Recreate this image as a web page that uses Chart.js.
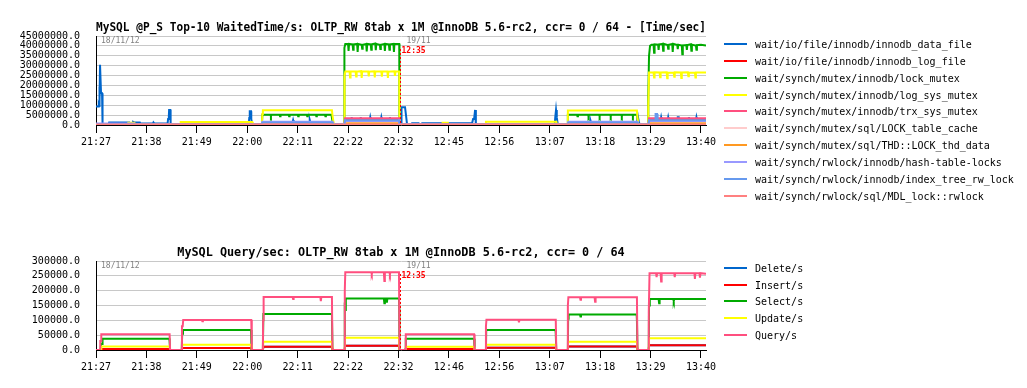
<!DOCTYPE html>
<html>
<head>
<meta charset="utf-8">
<script src="https://cdn.jsdelivr.net/npm/chart.js@4.4.0/dist/chart.umd.min.js"></script>
<style>
    body { margin: 0; background: #fff; width: 1027px; height: 388px; overflow: hidden; position: relative; font-family: "DejaVu Sans Mono", monospace; }
    canvas { position: absolute; left: 0; }
    .legend { position: absolute; left: 724px; top: 0; font-size: 10px; color: #000; }
    .legend-row { position: absolute; left: 0; height: 16px; white-space: nowrap; }
    .legend-row .swatch { position: absolute; left: 0; top: 7px; width: 23px; height: 2px; }
    .legend-row .label { position: absolute; left: 31px; top: 1px; line-height: 16px; }
</style>
</head>
<body>
<canvas id="waitChart" width="1027" height="160" style="top:0"></canvas>
<canvas id="queryChart" width="1027" height="160" style="top:225px"></canvas>
<div id="waitLegend" class="legend"></div>
<div id="queryLegend" class="legend"></div>
<script>
const MONO = '"DejaVu Sans Mono", monospace';

// x is sample position, one tick every 10 samples
const waitTimes = ['21:27', '21:38', '21:49', '22:00', '22:11', '22:22', '22:32', '12:45', '12:56', '13:07', '13:18', '13:29', '13:40'];
const queryTimes = ['21:27', '21:38', '21:49', '22:00', '22:11', '22:22', '22:32', '12:46', '12:56', '13:07', '13:18', '13:29', '13:40'];
const dayBreakAt = 60.3;

// ---- Top-10 waited time / sec ----
const innodbDataFile = [[0,9.3e6],[0.5,9.4e6],[0.55,10e6],[0.6,9.6e6],[0.65,19.4e6],[0.75,12e6],[0.8,30.4e6],[0.95,30.4e6],[1.0,16e6],[1.2,16e6],[1.3,0.3e6],
    [2.5,0.3e6],[2.6,1.3e6],[4.4,1.3e6],[4.5,0.6e6],[4.7,1.3e6],[6.6,1.3e6],[6.7,0.6e6],[7.3,0.6e6],[7.35,1.6e6],[7.6,1.3e6],[8.7,1.3e6],[8.8,0.7e6],
    [11.3,0.7e6],[11.4,1.3e6],[11.6,0.7e6],[14.2,0.7e6],[14.3,3e6],[14.45,4.6e6],[14.5,7.6e6],[14.75,7.6e6],[14.8,0.3e6],
    [30.3,0.3e6],[30.4,3.5e6],[30.5,6.9e6],[30.75,6.9e6],[30.8,3e6],[31.0,0.3e6],[32.9,0.3e6],[33.0,1.5e6],[39.0,1.5e6],[39.1,2.5e6],[39.2,1.5e6],
    [42.3,1.5e6],[42.4,2.5e6],[42.5,1.5e6],[46.9,1.5e6],[47.2,0.3e6],[49.3,0.3e6],[49.4,2.6e6],[50.6,2.6e6],[50.7,3.9e6],[50.8,2.6e6],
    [52.4,2.6e6],[52.5,3.9e6],[52.6,2.6e6],[54.3,2.6e6],[54.4,3.9e6],[54.5,2.6e6],[56.5,2.6e6],[56.6,3.9e6],[56.7,2.6e6],[58.2,2.6e6],[58.3,3.9e6],[58.4,2.6e6],
    [60.1,2.6e6],[60.3,0.3e6],[60.5,0.3e6],[60.6,9e6],[61.3,9e6],[61.5,4.7e6],[61.7,0.3e6],[62.6,0.3e6],[62.7,0.9e6],[64.0,0.9e6],[64.1,0.3e6],
    [64.6,0.3e6],[64.7,0.9e6],[68.5,0.9e6],[68.6,0.3e6],[69.8,0.3e6],[69.9,0.9e6],[74.6,0.9e6],[74.8,3e6],[75.0,3e6],[75.2,7.6e6],[75.35,0.3e6],
    [91.0,0.3e6],[91.1,3.9e6],[91.25,7.6e6],[91.4,3.9e6],[91.6,0.3e6],[93.6,0.3e6],[93.7,1.3e6],[98.0,1.3e6],[98.1,2.2e6],[98.2,1.3e6],
    [107.3,1.3e6],[107.5,4.2e6],[107.7,1.3e6],[107.9,0.3e6],[109.6,0.3e6],[109.7,2.6e6],[112.0,2.6e6],[112.1,3.9e6],[112.2,2.6e6],
    [113.4,2.6e6],[113.5,3.9e6],[113.6,2.6e6],[115.3,2.6e6],[115.4,3.9e6],[115.6,3.9e6],[115.7,2.6e6],[117.5,2.6e6],[117.6,3.9e6],[117.7,2.6e6],
    [119.0,2.6e6],[119.1,3.9e6],[119.2,2.6e6],[121,2.6e6]];
const innodbLogFile = [[0,0.4e6],[32.9,0.4e6],[33.0,0.6e6],[46.9,0.6e6],[47.0,0.4e6],[49.3,0.4e6],[49.4,2.9e6],[60.15,2.9e6],[60.2,0.4e6],
    [93.6,0.4e6],[93.7,0.6e6],[107.4,0.6e6],[107.5,0.4e6],[109.6,0.4e6],[109.7,2.9e6],[121,2.9e6]];
const lockMutex = [[0,0],[32.9,0],[33.0,5.2e6],[34.6,5.2e6],[34.7,4.4e6],[34.8,5.2e6],[36.4,5.2e6],[36.5,4.4e6],[36.6,5.2e6],[38.2,5.2e6],[38.3,4.4e6],[38.4,5.2e6],
    [40.0,5.2e6],[40.1,4.4e6],[40.2,5.2e6],[41.8,5.2e6],[41.9,4.4e6],[42.0,5.2e6],[43.6,5.2e6],[43.7,4.4e6],[43.8,5.2e6],[45.4,5.2e6],[45.5,4.4e6],[45.6,5.2e6],
    [46.7,5.2e6],[46.9,2e6],[47.2,0],[49.2,0],[49.25,15e6],[49.3,39e6],[49.45,41e6],[50.0,41e6],[50.1,37.5e6],[50.2,41e6],[50.9,40.8e6],[51.0,38e6],[51.1,40.8e6],
    [51.8,41e6],[51.9,37e6],[52.0,41e6],[52.7,40.6e6],[52.8,38.5e6],[52.9,40.6e6],[53.6,41e6],[53.7,37.2e6],[53.8,41e6],[54.5,40.8e6],[54.6,38e6],[54.7,40.8e6],
    [55.4,41.2e6],[55.5,37.8e6],[55.6,41e6],[56.3,40.6e6],[56.4,38.4e6],[56.5,40.6e6],[57.2,41e6],[57.3,37.5e6],[57.4,41e6],[58.1,40.8e6],[58.2,38e6],[58.3,40.8e6],
    [59.0,41e6],[59.1,37e6],[59.2,41e6],[60.15,41e6],[60.2,0],[93.5,0],[93.6,5.2e6],[95.4,5.2e6],[95.5,4.4e6],[95.6,5.2e6],[97.6,5.2e6],[97.7,4.4e6],[97.8,5.2e6],
    [99.8,5.2e6],[99.9,4.4e6],[100.0,5.2e6],[102.0,5.2e6],[102.1,4.4e6],[102.2,5.2e6],[104.2,5.2e6],[104.3,4.4e6],[104.4,5.2e6],[106.4,5.2e6],[106.5,4.4e6],[106.6,5.2e6],
    [107.3,5.2e6],[107.5,2e6],[107.6,0],[109.5,0],[109.55,14.4e6],[109.7,35e6],[109.9,40e6],[110.2,40.6e6],[110.6,40.6e6],[110.7,36.5e6],[110.8,40.8e6],
    [111.5,40.6e6],[111.6,38e6],[111.7,40.8e6],[112.4,41e6],[112.5,37.5e6],[112.6,41e6],[113.4,40.4e6],[113.5,38.5e6],[113.6,40.6e6],[114.3,41e6],[114.4,37e6],[114.5,41e6],
    [115.3,40.4e6],[115.4,38.4e6],[115.5,40.6e6],[116.2,40.2e6],[116.3,35.8e6],[116.4,40.2e6],[117.1,40.4e6],[117.2,38e6],[117.3,40.4e6],[118.0,40.8e6],[118.1,37.6e6],
    [118.2,40.6e6],[119.0,40.2e6],[119.1,38e6],[119.2,40.4e6],[120.0,40.6e6],[121,40.2e6]];
const logSysMutex = [[0,0],[6.3,0],[6.4,1.2e6],[7.6,1.2e6],[7.7,0],[16.7,0],[16.8,1.5e6],[31.0,1.5e6],[31.1,0],[32.9,0],[33.0,5.5e6],[33.1,7.4e6],[46.8,7.4e6],[46.9,5e6],[47.2,0],
    [49.25,0],[49.3,25e6],[49.45,27e6],[50.3,27e6],[50.4,24e6],[50.5,27e6],[51.5,27e6],[51.6,24.5e6],[51.7,27e6],[52.6,27.2e6],[52.7,23.8e6],[52.8,27e6],
    [54.0,27e6],[54.1,24.6e6],[54.2,27e6],[55.2,27.2e6],[55.3,24e6],[55.4,27e6],[56.6,27e6],[56.7,24.4e6],[56.8,27e6],[57.8,27e6],[57.9,23.8e6],[58.0,27e6],
    [59.2,27.2e6],[59.3,24.8e6],[59.4,27e6],[60.15,27e6],[60.2,0],[68.7,0],[68.75,1.2e6],[69.8,1.2e6],[69.85,0],[77.3,0],[77.35,1.7e6],[91.3,1.7e6],[91.35,0],
    [93.5,0],[93.6,7.3e6],[107.3,7.3e6],[107.4,4e6],[107.6,0],[109.5,0],[109.55,9e6],[109.7,26.5e6],[110.6,26.5e6],[110.7,24e6],[110.8,26.6e6],
    [111.8,26.5e6],[111.9,24.2e6],[112.0,26.5e6],[113.2,26.6e6],[113.3,23.7e6],[113.4,26.5e6],[114.6,26.4e6],[114.7,24.4e6],[114.8,26.6e6],
    [116.0,26.5e6],[116.1,23.8e6],[116.2,26.5e6],[117.4,26.6e6],[117.5,24.6e6],[117.6,26.4e6],[118.8,26.5e6],[118.9,24e6],[119.0,26.5e6],[121,26.5e6]];
const trxSysMutex = [[0,0.2e6],[32.9,0.2e6],[33.0,0.9e6],[46.9,0.9e6],[47.0,0.2e6],[49.3,0.2e6],[49.4,3.4e6],[60.15,3.4e6],[60.2,0.2e6],
    [93.6,0.2e6],[93.7,0.9e6],[107.4,0.9e6],[107.5,0.2e6],[109.6,0.2e6],[109.7,3.4e6],[121,3.4e6]];
const lockTableCache = [[0,0.3e6],[49.3,0.3e6],[49.4,2.2e6],[60.15,2.2e6],[60.2,0.3e6],[109.6,0.3e6],[109.7,2.2e6],[121,2.2e6]];
const lockThdData = [[0,0.1e6],[49.3,0.1e6],[49.4,0.9e6],[60.15,0.9e6],[60.2,0.1e6],[109.6,0.1e6],[109.7,0.9e6],[121,0.9e6]];
const hashTableLocks = [[0,0.8e6],[7.6,0.8e6],[7.7,0.3e6],[32.9,0.3e6],[33.0,1.6e6],[46.9,1.6e6],[47.0,0.3e6],[49.3,0.3e6],[49.4,2e6],[60.15,2e6],[60.2,0.3e6],
    [93.6,0.3e6],[93.7,1.6e6],[107.4,1.6e6],[107.5,0.3e6],[109.6,0.3e6],[109.7,2e6],[121,2e6]];
const indexTreeRwLock = [[0,0.2e6],[32.9,0.2e6],[33.0,1.3e6],[46.9,1.3e6],[47.0,0.2e6],[49.3,0.2e6],[49.4,2.4e6],[60.15,2.4e6],[60.2,0.2e6],
    [93.6,0.2e6],[93.7,1.3e6],[107.4,1.3e6],[107.5,0.2e6],[109.6,0.2e6],[109.7,2.4e6],[110.9,2.4e6],[111.0,5.6e6],[111.3,5.6e6],[111.4,2.4e6],[121,2.4e6]];
const mdlLockRwlock = [[0,0.3e6],[121,0.3e6]];

// ---- Query / sec ----
const deleteSec = [[0,0],[1.0,0],[1.05,3300],[14.6,3300],[14.7,0],[17.05,0],[17.1,6700],[30.8,6700],[30.9,0],[33.1,0],[33.2,11000],[46.8,11000],[46.9,0],
    [49.35,0],[49.4,14400],[60.1,14400],[60.2,0],[61.4,0],[61.45,3300],[75.0,3300],[75.1,0],[77.35,0],[77.4,7500],[91.2,7500],[91.3,0],
    [93.6,0],[93.65,11500],[107.3,11500],[107.4,0],[109.65,0],[109.7,15600],[121,15600]];
const insertSec = [[0,0],[1.0,0],[1.05,3300],[14.6,3300],[14.7,0],[17.05,0],[17.1,6700],[30.8,6700],[30.9,0],[33.1,0],[33.2,11000],[46.8,11000],[46.9,0],
    [49.35,0],[49.4,14400],[60.1,14400],[60.2,0],[61.4,0],[61.45,3300],[75.0,3300],[75.1,0],[77.35,0],[77.4,7500],[91.2,7500],[91.3,0],
    [93.6,0],[93.65,11500],[107.3,11500],[107.4,0],[109.65,0],[109.7,15600],[121,15600]];
const selectSec = [[0,0],[0.9,0],[1.0,20000],[1.2,20000],[1.3,37800],[14.55,37800],[14.6,30000],[14.7,0],[17.0,0],[17.1,55000],[17.25,67800],[30.75,67800],[30.8,60000],[30.9,0],
    [33.1,0],[33.2,121000],[46.8,121000],[46.9,0],[49.3,0],[49.35,160000],[49.5,135000],[49.55,174000],[57.1,174000],[57.2,158000],[57.3,174000],
    [57.6,174000],[57.7,160000],[57.8,174000],[60.1,174000],[60.15,140000],[60.2,0],[61.4,0],[61.45,37800],[75.0,37800],[75.1,0],
    [77.35,0],[77.4,67800],[91.15,67800],[91.2,55000],[91.3,0],[93.6,0],[93.65,105000],[93.75,120000],[96.0,120000],[96.1,113000],[96.2,120000],
    [107.25,120000],[107.3,100000],[107.4,0],[109.65,0],[109.7,150000],[109.85,172000],[111.6,172000],[111.7,158000],[111.8,172000],
    [114.5,172000],[114.6,165000],[114.7,172000],[121,172000]];
const updateSec = [[0,0],[1.0,0],[1.05,12000],[14.6,12000],[14.7,0],[17.05,0],[17.1,17800],[30.8,17800],[30.9,0],[33.1,0],[33.2,27800],[46.8,27800],[46.9,0],
    [49.35,0],[49.4,41000],[60.1,41000],[60.2,0],[61.4,0],[61.45,11000],[75.0,11000],[75.1,0],[77.35,0],[77.4,17800],[91.2,17800],[91.3,0],
    [93.6,0],[93.65,27800],[107.3,27800],[107.4,0],[109.65,0],[109.7,40000],[121,40000]];
const querySec = [[0,0],[0.8,0],[0.85,30000],[1.0,30000],[1.05,53000],[14.6,53000],[14.7,0],[17.0,0],[17.05,80000],[17.2,80000],[17.3,101000],
    [21.0,101000],[21.1,97000],[21.2,101000],[30.8,101000],[30.9,0],[33.1,0],[33.15,100000],[33.25,179000],[39.0,179000],[39.1,172000],[39.2,179000],
    [44.5,179000],[44.6,165000],[44.7,179000],[46.8,179000],[46.9,0],[49.3,0],[49.35,200000],[49.45,262000],[54.6,262000],[54.7,256000],[54.8,262000],
    [57.1,262000],[57.2,233000],[57.3,262000],[58.2,262000],[58.3,255000],[58.4,262000],[60.1,262000],[60.2,0],[61.35,0],[61.45,53000],[75.0,53000],[75.1,0],
    [77.3,0],[77.35,80000],[77.45,102000],[83.8,102000],[83.9,93000],[84.0,102000],[91.2,102000],[91.3,0],[93.55,0],[93.6,150000],[93.7,178000],
    [96.0,178000],[96.1,169000],[96.2,178000],[98.9,178000],[99.0,163000],[99.1,178000],[107.3,178000],[107.4,0],[109.6,0],[109.65,130000],[109.8,259000],
    [111.1,259000],[111.2,246000],[111.3,259000],[112.0,259000],[112.1,231000],[112.2,259000],[114.7,259000],[114.8,246000],[114.9,259000],
    [118.7,259000],[118.8,240000],[118.9,259000],[119.7,259000],[119.8,244000],[119.9,259000],[121,257000]];

const waitSeries = [
    { name: 'wait/io/file/innodb/innodb_data_file', color: '#0066cc', points: innodbDataFile },
    { name: 'wait/io/file/innodb/innodb_log_file', color: '#ff0000', points: innodbLogFile },
    { name: 'wait/synch/mutex/innodb/lock_mutex', color: '#00aa00', points: lockMutex },
    { name: 'wait/synch/mutex/innodb/log_sys_mutex', color: '#ffff00', points: logSysMutex },
    { name: 'wait/synch/mutex/innodb/trx_sys_mutex', color: '#ff4f7f', points: trxSysMutex },
    { name: 'wait/synch/mutex/sql/LOCK_table_cache', color: '#ffcccc', points: lockTableCache },
    { name: 'wait/synch/mutex/sql/THD::LOCK_thd_data', color: '#ff9922', points: lockThdData },
    { name: 'wait/synch/rwlock/innodb/hash-table-locks', color: '#9999ff', points: hashTableLocks },
    { name: 'wait/synch/rwlock/innodb/index_tree_rw_lock', color: '#6699ee', points: indexTreeRwLock },
    { name: 'wait/synch/rwlock/sql/MDL_lock::rwlock', color: '#ff8080', points: mdlLockRwlock },
];
const querySeries = [
    { name: 'Delete/s', color: '#0066cc', points: deleteSec },
    { name: 'Insert/s', color: '#ff0000', points: insertSec },
    { name: 'Select/s', color: '#00aa00', points: selectSec },
    { name: 'Update/s', color: '#ffff00', points: updateSec },
    { name: 'Query/s', color: '#ff4f7f', points: querySec },
];

// date stamps + red dotted day-break marker
const markerPlugin = {
    id: 'dayMarker',
    afterDatasetsDraw(chart) {
        const { ctx, chartArea, scales } = chart;
        const xm = Math.round(scales.x.getPixelForValue(dayBreakAt)) + 0.5;
        ctx.save();
        ctx.strokeStyle = '#ff0000';
        ctx.lineWidth = 1;
        ctx.setLineDash([2, 2]);
        ctx.beginPath();
        ctx.moveTo(xm, chartArea.top + 13);
        ctx.lineTo(xm, chartArea.bottom);
        ctx.stroke();
        ctx.setLineDash([]);
        ctx.textBaseline = 'middle';
        ctx.font = '8px ' + MONO;
        ctx.fillStyle = '#808080';
        ctx.fillText('18/11/12', chartArea.left + 5, chartArea.top + 5);
        ctx.fillText('19/11', xm + 6, chartArea.top + 5);
        ctx.font = 'bold 8px ' + MONO;
        ctx.fillStyle = '#ff0000';
        ctx.fillText('12:35', xm + 1, chartArea.top + 15);
        ctx.restore();
    }
};

function BuildChart(canvasId, title, times, series, yMax, yStep) {
    return new Chart(document.getElementById(canvasId), {
        type: 'line',
        data: {
            datasets: series.map((s, i) => ({
                label: s.name,
                data: s.points.map(p => ({ x: p[0], y: p[1] })),
                borderColor: s.color,
                backgroundColor: s.color,
                borderWidth: 2,
                pointRadius: 0,
                tension: 0,
                fill: false,
                order: series.length - 1 - i, // later series painted on top
            })),
        },
        options: {
            responsive: false,
            animation: false,
            devicePixelRatio: 1,
            layout: { padding: { left: 0, right: 321, top: 0, bottom: 0 } },
            plugins: {
                legend: { display: false },
                tooltip: { enabled: false },
                title: {
                    display: true,
                    text: title,
                    fullSize: false,
                    color: '#000',
                    font: { family: MONO, size: 11.8, weight: 'bold', lineHeight: 1.2 },
                    padding: { top: 21, bottom: 0.84 },
                },
            },
            scales: {
                x: {
                    type: 'linear',
                    min: 0,
                    max: 121,
                    ticks: {
                        stepSize: 10,
                        includeBounds: false,
                        autoSkip: false,
                        maxRotation: 0,
                        color: '#000',
                        font: { family: MONO, size: 10 },
                        padding: 3,
                        callback: (v) => times[v / 10] ?? '',
                    },
                    grid: { drawOnChartArea: false, drawTicks: true, tickLength: 8, tickColor: '#000', tickWidth: 1 },
                    border: { display: true, color: '#000', width: 1 },
                    afterFit: (scale) => { scale.height = 35; },
                },
                y: {
                    min: 0,
                    max: yMax,
                    ticks: {
                        stepSize: yStep,
                        autoSkip: false,
                        color: '#000',
                        font: { family: MONO, size: 10 },
                        padding: 16,
                        callback: (v) => v.toFixed(1),
                    },
                    grid: { color: '#c8c8c8', lineWidth: 1, drawTicks: false },
                    border: { display: true, color: '#000', width: 1 },
                    afterFit: (scale) => { scale.width = 96; },
                },
            },
        },
        plugins: [markerPlugin],
    });
}

function BuildLegend(elId, series, firstY, spacing) {
    const box = document.getElementById(elId);
    series.forEach((s, i) => {
        const row = document.createElement('div');
        row.className = 'legend-row';
        row.style.top = (firstY + i * spacing - 8) + 'px';
        const sw = document.createElement('div');
        sw.className = 'swatch';
        sw.style.background = s.color;
        const lb = document.createElement('span');
        lb.className = 'label';
        lb.textContent = s.name;
        row.appendChild(sw);
        row.appendChild(lb);
        box.appendChild(row);
    });
}

BuildChart('waitChart', 'MySQL @P_S Top-10 WaitedTime/s: OLTP_RW 8tab x 1M @InnoDB 5.6-rc2, ccr= 0 / 64 - [Time/sec]', waitTimes, waitSeries, 45000000, 5000000);
BuildChart('queryChart', 'MySQL Query/sec: OLTP_RW 8tab x 1M @InnoDB 5.6-rc2, ccr= 0 / 64', queryTimes, querySeries, 300000, 50000);
BuildLegend('waitLegend', waitSeries, 44, 16.86);
BuildLegend('queryLegend', querySeries, 268, 16.67);
</script>
</body>
</html>
